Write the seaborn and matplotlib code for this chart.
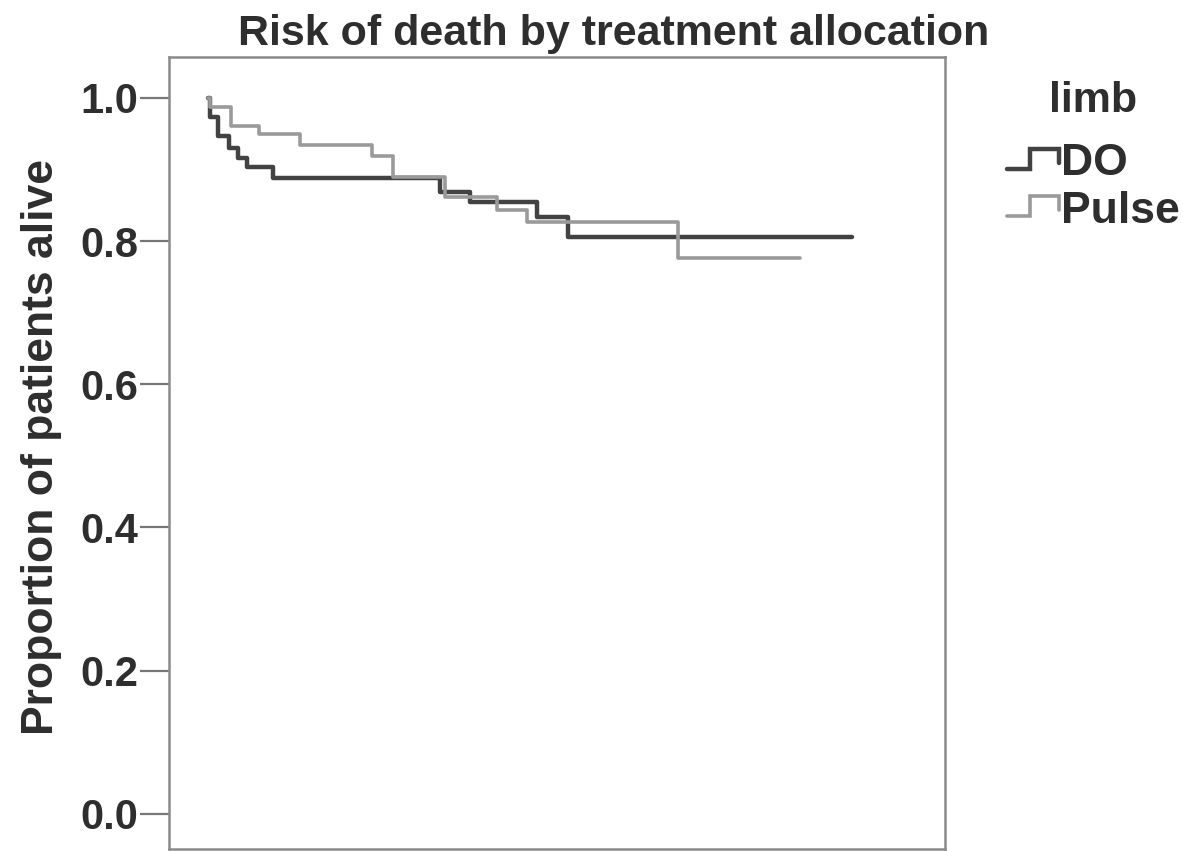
import numpy as np
import pandas as pd
import matplotlib
matplotlib.use("Agg")
import matplotlib.pyplot as plt
import seaborn as sns
from matplotlib.legend_handler import HandlerBase
from matplotlib.lines import Line2D

# ---- data ----
groups = ["DO", "Pulse"]
do_time = [0, 0.2, 1.0, 2.1, 3.0, 3.9, 6.5, 23.2, 26.2, 32.9, 36.0, 64.4]
do_surv = [1.0, 0.973, 0.946, 0.930, 0.916, 0.904, 0.888, 0.869, 0.854, 0.833, 0.806, 0.806]
pulse_time = [0, 0.2, 2.3, 5.1, 9.2, 16.4, 18.5, 23.7, 28.9, 31.9, 47.0, 59.2]
pulse_surv = [1.0, 0.987, 0.960, 0.950, 0.934, 0.919, 0.889, 0.861, 0.844, 0.826, 0.777, 0.777]
yticks = [0.0, 0.2, 0.4, 0.6, 0.8, 1.0]
ytick_labels = ["0.0", "0.2", "0.4", "0.6", "0.8", "1.0"]

df = pd.concat([
    pd.DataFrame({"time": do_time, "surv": do_surv, "limb": "DO"}),
    pd.DataFrame({"time": pulse_time, "surv": pulse_surv, "limb": "Pulse"}),
], ignore_index=True)

colors = {"DO": "#424242", "Pulse": "#9a9a9a"}
widths = {"DO": 3.2, "Pulse": 2.6}
txt = "#2e2e2e"

sns.set_style("white")
plt.rcParams["font.family"] = ["Liberation Sans", "DejaVu Sans"]

W, H = 1183, 851
fig = plt.figure(figsize=(W / 100, H / 100), dpi=100)
L, R, T, B = 169, 945, 57, 849
ax = fig.add_axes([L / W, 1 - B / H, (R - L) / W, (B - T) / H])

for g in groups:
    sns.lineplot(data=df[df["limb"] == g], x="time", y="surv", color=colors[g],
                 drawstyle="steps-post", estimator=None, lw=widths[g], ax=ax,
                 legend=False)

ax.set_xlim(-3.9, 73.7)
ax.set_ylim(-0.049, 1.057)
ax.set_xticks([])
ax.set_yticks(yticks)
ax.set_yticklabels(ytick_labels, fontsize=30, fontweight="bold", color=txt)
ax.tick_params(axis="y", direction="out", length=21, width=1.6, color="#777777", pad=1, left=True)
for sp in ax.spines.values():
    sp.set_color("#8a8a8a")
    sp.set_linewidth(1.8)
ax.set_xlabel("")
ax.set_ylabel("Proportion of patients alive", fontsize=32, fontweight="bold", color=txt)
ax.yaxis.set_label_coords((62 - L) / (R - L), (B - 447) / (B - T))

fig.text(614 / W, 1 - 45 / H, "Risk of death by treatment allocation",
         ha="center", va="baseline", fontsize=31, fontweight="bold", color=txt)


class StepHandler(HandlerBase):
    def create_artists(self, legend, orig_handle, xdescent, ydescent, width, height, fontsize, trans):
        x0, w = -xdescent, width
        y0, h = -ydescent, height
        xs = [x0, x0 + 0.45 * w, x0 + 0.45 * w, x0 + w, x0 + w]
        ys = [y0 + 0.2 * h, y0 + 0.2 * h, y0 + 0.85 * h, y0 + 0.85 * h, y0 + 0.4 * h]
        ln = Line2D(xs, ys, color=orig_handle.get_color(), lw=orig_handle.get_linewidth(),
                    transform=trans, solid_joinstyle="miter")
        return [ln]


handles = [Line2D([], [], color=colors[g], lw=widths[g]) for g in groups]
leg = fig.legend(handles, groups, loc="upper left", bbox_to_anchor=(1007 / W, 1 - 143 / H),
                 frameon=False, handler_map={Line2D: StepHandler()},
                 prop={"size": 32, "weight": "bold"},
                 handlelength=1.17, handletextpad=0.05, labelspacing=0.15, borderpad=0.0,
                 borderaxespad=0.0)
for t in leg.get_texts():
    t.set_color(txt)
fig.text(1093 / W, 1 - 112 / H, "limb", ha="center", va="baseline",
         fontsize=31, fontweight="bold", color=txt)

fig.savefig("out.png", dpi=100)
